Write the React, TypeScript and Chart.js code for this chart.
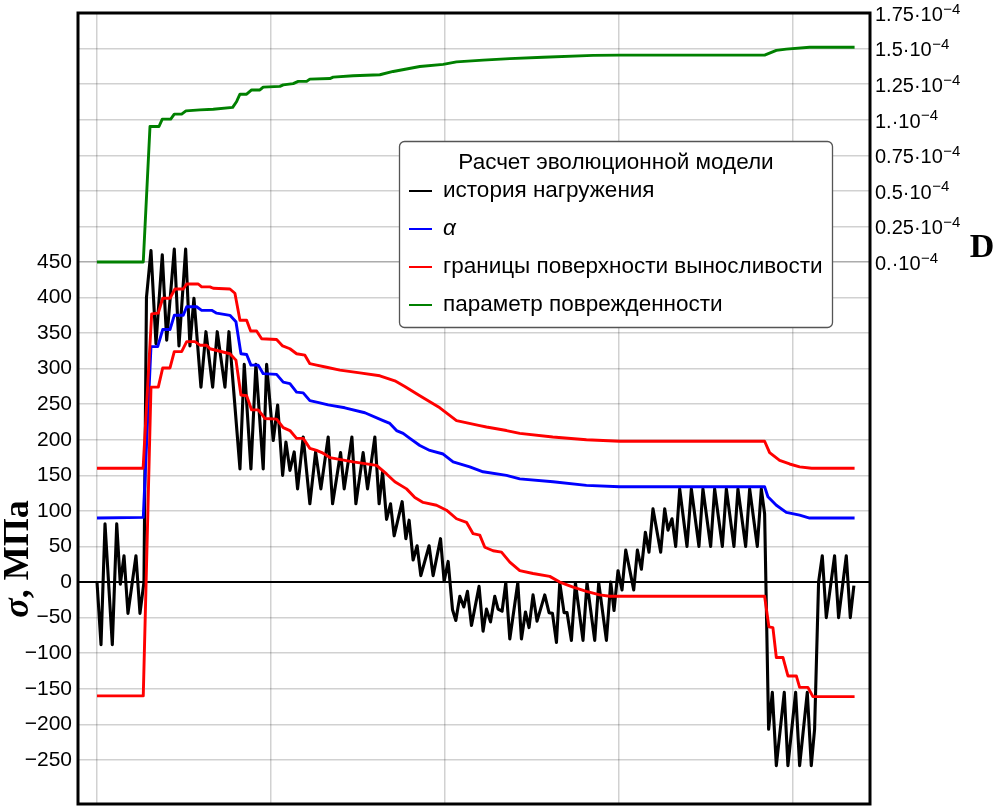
import React, { useEffect, useRef } from "react";
import { Chart, registerables } from "chart.js";

Chart.register(...registerables);

// time (arbitrary units, grid every 30) vs stress, MPa
const loadHistory: number[][] = [
  [0, 0], [0.69, -88], [1.38, 82], [2.64, -88], [3.4, 82], [4.02, -3], [4.66, 37], [5.34, -44], [6.72, 37], [7.41, -44],
  [8.1, 0], [8.53, 400], [9.31, 466], [10.17, 335], [11.26, 460], [12.02, 340], [13.33, 468], [14.14, 332], [15.29, 468], [16.03, 332],
  [16.72, 399], [17.93, 274], [18.79, 352], [19.95, 274], [20.74, 352], [22.07, 274], [22.76, 352], [24.66, 159], [25.4, 306], [26.55, 159],
  [27.41, 306], [28.67, 159], [29.26, 306], [30.4, 199], [31.16, 249], [32.02, 150], [32.59, 197], [33.28, 157], [34.02, 183], [34.6, 131],
  [35.57, 204], [36.72, 110], [37.71, 183], [38.62, 131], [39.88, 204], [40.64, 110], [42.02, 182], [42.64, 131], [43.97, 204], [44.66, 110],
  [45.91, 182], [46.67, 131], [47.93, 204], [48.67, 110], [49.26, 155], [49.95, 88], [50.64, 110], [51.26, 65], [52.64, 113], [53.28, 61],
  [53.84, 87], [54.53, 31], [55.22, 51], [55.86, 9], [57.29, 51], [57.98, 9], [59.26, 61], [59.88, 1], [60.57, 29], [61.33, -39],
  [61.9, -54], [62.59, -20], [63.28, -35], [63.91, -13], [64.6, -61], [65.91, -6], [66.6, -69], [67.19, -38], [67.88, -56], [68.62, -20],
  [69.19, -38], [69.88, -41], [70.52, -1], [71.21, -80], [72.59, -1], [73.22, -80], [73.91, -42], [74.53, -64], [75.22, -18], [75.91, -55],
  [77.24, -18], [77.98, -43], [78.57, -44], [79.26, -85], [79.83, -1], [80.57, -43], [81.09, -43], [81.84, -82], [82.53, -1], [83.84, -82],
  [84.53, -1], [85.86, -82], [86.55, -1], [87.88, -82], [88.62, 0], [89.19, -40], [89.88, 16], [90.57, -11], [91.21, 45], [92.59, -11],
  [93.22, 45], [93.91, 18], [94.6, 70], [95.22, 42], [95.91, 103], [97.24, 42], [97.93, 103], [98.5, 73], [99.19, 89], [99.83, 50],
  [100.52, 131], [101.78, 50], [102.53, 131], [103.84, 50], [104.53, 131], [105.86, 50], [106.55, 131], [107.88, 50], [108.57, 131], [109.88, 50],
  [110.57, 131], [111.9, 50], [112.59, 131], [113.91, 50], [114.6, 131], [115.17, 96], [115.86, -207], [116.5, -155], [117.19, -258], [118.56, -155],
  [119.19, -258], [120.52, -155], [121.21, -258], [122.53, -155], [123.22, -258], [123.79, -207], [124.48, 0], [125.12, 37], [125.81, -50], [127.24, 37],
  [127.93, -50], [129.26, 37], [129.95, -50], [130.57, -5],
];

const alphaCenter: number[][] = [
  [0, 90], [7.98, 91], [9.31, 331], [10.47, 331], [11.33, 355], [12.59, 355], [13.33, 375], [14.88, 375], [15.47, 387], [17.19, 387],
  [18.05, 382], [19.78, 382], [20.64, 378], [22.93, 375], [23.97, 366], [24.83, 321], [25.81, 320], [26.55, 305], [27.81, 305], [28.67, 293],
  [30.98, 292], [32.12, 281], [33.28, 279], [34.43, 267], [35.57, 266], [36.72, 255], [37.88, 253], [39.88, 249], [42.76, 245], [46.21, 238],
  [49.36, 227], [50.52, 223], [51.67, 213], [52.81, 209], [53.97, 202], [55.69, 192], [57.41, 185], [59.71, 180], [61.43, 169], [64.31, 162],
  [66.6, 155], [70.64, 150], [72.93, 145], [78.67, 141], [84.43, 136], [90.17, 134], [115.17, 134], [115.74, 120], [117.19, 108], [118.91, 98],
  [121.21, 94], [122.93, 90], [130.69, 90],
];

const upperBound: number[][] = [
  [0, 160], [7.95, 160], [9.43, 377], [10.57, 378], [11.33, 399], [12.59, 399], [13.45, 412], [14.88, 412], [15.47, 419], [17.47, 419],
  [18.05, 415], [19.48, 415], [20.05, 413], [22.93, 412], [23.79, 406], [24.66, 368], [25.81, 368], [26.5, 353], [27.53, 353], [28.4, 342],
  [30.98, 341], [32.02, 332], [33.28, 328], [34.43, 321], [35.86, 319], [36.72, 307], [37.88, 305], [39.6, 302], [41.9, 298], [45.34, 294],
  [48.79, 290], [51.38, 283], [53.1, 275], [55.69, 262], [59.14, 245], [62.02, 227], [66.03, 220], [67.19, 218], [70.64, 213], [72.93, 209],
  [78.62, 204], [84.43, 200], [90.17, 198], [115.17, 198], [116.03, 182], [117.76, 171], [119.48, 166], [121.21, 162], [123.28, 160], [130.69, 160],
];

const lowerBound: number[][] = [
  [0, -160], [7.98, -160], [9.31, 274], [10.57, 274], [11.33, 301], [12.59, 301], [13.33, 324], [14.6, 324], [15.47, 338], [16.9, 338],
  [17.76, 333], [18.91, 333], [19.48, 328], [22.93, 321], [23.97, 312], [24.83, 263], [25.81, 262], [26.67, 242], [27.81, 242], [28.97, 230],
  [30.98, 229], [32.12, 217], [33.28, 213], [34.43, 202], [35.57, 202], [36.72, 188], [37.88, 185], [38.79, 182], [40.17, 175], [44.19, 169],
  [48.22, 164], [49.95, 152], [51.38, 141], [53.4, 131], [54.83, 119], [56.26, 112], [58.57, 108], [60.29, 101], [62.02, 89], [63.74, 84],
  [64.88, 68], [66.03, 66], [66.9, 49], [68.33, 44], [69.78, 42], [71.21, 28], [72.93, 16], [75.22, 12], [78.1, 8], [79.83, 0],
  [82.12, -7], [84.43, -13], [86.72, -18], [88.45, -20], [115.17, -20], [115.91, -63], [116.6, -64], [117.19, -106], [118.33, -106], [119.19, -132],
  [120.64, -132], [121.21, -148], [122.64, -148], [123.5, -161], [130.69, -161],
];

// damage parameter D in units of 10^-4
const damageE4: number[][] = [
  [0, 0], [7.98, 0], [9.14, 0.953], [10.69, 0.953], [11.26, 1.005], [12.71, 1.005], [13.33, 1.04], [14.6, 1.04], [15.34, 1.063], [17.76, 1.07],
  [20.05, 1.074], [23.4, 1.087], [24.09, 1.129], [24.66, 1.18], [25.81, 1.18], [26.67, 1.21], [28.1, 1.21], [28.67, 1.23], [31.55, 1.235], [32.12, 1.246],
  [33.84, 1.254], [34.71, 1.27], [36.16, 1.27], [36.72, 1.286], [40.17, 1.29], [40.74, 1.3], [44.19, 1.31], [48.79, 1.317], [51.09, 1.34], [53.4, 1.357],
  [55.69, 1.375], [59.71, 1.39], [62.02, 1.407], [66.6, 1.42], [71.21, 1.43], [76.95, 1.44], [85.57, 1.453], [90.17, 1.455], [115.17, 1.455], [117.19, 1.488],
  [118.91, 1.497], [122.93, 1.51], [130.69, 1.51],
];

const sigmaTicks = [-250, -200, -150, -100, -50, 0, 50, 100, 150, 200, 250, 300, 350, 400, 450];
const damageTicks = [0, 0.25, 0.5, 0.75, 1, 1.25, 1.5, 1.75];
const damageTickLabels = ["0.", "0.25", "0.5", "0.75", "1.", "1.25", "1.5", "1.75"];
const timeGrid = [0, 30, 60, 90, 120];

const legendTitle = "Расчет эволюционной модели";
const legendLabels = ["история нагружения", "α", "границы поверхности выносливости", "параметр поврежденности"];
const legendColors = ["#000000", "#0000ff", "#ff0000", "#008000"];

const SANS = '"Liberation Sans", Arial, sans-serif';
const SERIF = '"Liberation Serif", "Times New Roman", serif';
const GRID = "rgba(0,0,0,0.18)";

const toPoints = (arr: number[][]) => arr.map(([x, y]) => ({ x, y }));

const decorPlugin = {
  id: "decor",
  afterDatasetsDraw(chart: any) {
    const { ctx, chartArea } = chart;
    const { left, top, right, bottom } = chartArea;
    ctx.save();
    ctx.strokeStyle = "#000";
    ctx.lineWidth = 3;
    ctx.strokeRect(left, top, right - left, bottom - top);
    ctx.restore();
  },
  afterDraw(chart: any) {
    const { ctx, chartArea, scales } = chart;
    ctx.save();
    // right-axis tick labels with superscript exponent
    const y2 = scales.y2;
    damageTicks.forEach((v, i) => {
      const py = y2.getPixelForValue(v);
      const main = damageTickLabels[i] + "·10";
      ctx.fillStyle = "#000";
      ctx.textAlign = "left";
      ctx.textBaseline = "alphabetic";
      ctx.font = `20px ${SANS}`;
      const x0 = chartArea.right + 5;
      ctx.fillText(main, x0, py + 7.7);
      const w = ctx.measureText(main).width;
      ctx.font = `15px ${SANS}`;
      ctx.fillText("−4", x0 + w + 0.5, py + 0.5);
    });

    // left axis title
    ctx.save();
    ctx.translate(28, 559);
    ctx.rotate(-Math.PI / 2);
    ctx.textBaseline = "alphabetic";
    ctx.textAlign = "left";
    const f1 = `italic bold 36px ${SERIF}`;
    const f2 = `bold 36px ${SERIF}`;
    ctx.font = f1;
    const w1 = ctx.measureText("σ").width;
    ctx.font = f2;
    const w2 = ctx.measureText(", МПа").width;
    const start = -(w1 + w2) / 2;
    ctx.fillStyle = "#000";
    ctx.font = f1;
    ctx.fillText("σ", start, 0);
    ctx.font = f2;
    ctx.fillText(", МПа", start + w1, 0);
    ctx.restore();

    // right axis title
    ctx.font = `bold 34px ${SERIF}`;
    ctx.textAlign = "center";
    ctx.textBaseline = "alphabetic";
    ctx.fillStyle = "#000";
    ctx.fillText("D", 982, 257);

    // legend box
    const bx = 399.5, by = 141.5, bw = 433, bh = 186;
    ctx.beginPath();
    if ((ctx as any).roundRect) (ctx as any).roundRect(bx, by, bw, bh, 5);
    else ctx.rect(bx, by, bw, bh);
    ctx.fillStyle = "#ffffff";
    ctx.fill();
    ctx.strokeStyle = "#555";
    ctx.lineWidth = 1.3;
    ctx.stroke();

    ctx.fillStyle = "#000";
    ctx.font = `22.5px ${SANS}`;
    ctx.textAlign = "center";
    ctx.fillText(legendTitle, bx + bw / 2, 169);

    ctx.textAlign = "left";
    legendLabels.forEach((lab, i) => {
      const base = 197 + i * 38;
      const ly = base - 6;
      ctx.strokeStyle = legendColors[i];
      ctx.lineWidth = 2;
      ctx.beginPath();
      ctx.moveTo(409, ly);
      ctx.lineTo(432, ly);
      ctx.stroke();
      ctx.fillStyle = "#000";
      ctx.font = lab === "α" ? `italic 22.5px ${SANS}` : `22.5px ${SANS}`;
      ctx.fillText(lab, 443, base);
    });
    ctx.restore();
  },
};

export default function App() {
  const canvasRef = useRef<HTMLCanvasElement | null>(null);

  useEffect(() => {
    if (!canvasRef.current) return;
    const common = {
      pointRadius: 0,
      borderWidth: 2.9,
      tension: 0,
      fill: false,
      borderJoinStyle: "round" as const,
    };
    const chart = new Chart(canvasRef.current, {
      type: "line",
      data: {
        datasets: [
          { ...common, label: legendLabels[0], data: toPoints(loadHistory), borderColor: "#000000", borderWidth: 3.1, yAxisID: "y", order: 4 },
          { ...common, label: legendLabels[1], data: toPoints(alphaCenter), borderColor: "#0000ff", yAxisID: "y", order: 3 },
          { ...common, label: legendLabels[2], data: toPoints(upperBound), borderColor: "#ff0000", yAxisID: "y", order: 2 },
          { ...common, label: legendLabels[2] + " (нижняя)", data: toPoints(lowerBound), borderColor: "#ff0000", yAxisID: "y", order: 2 },
          { ...common, label: legendLabels[3], data: toPoints(damageE4), borderColor: "#008000", yAxisID: "y2", order: 1 },
        ],
      },
      options: {
        animation: false,
        responsive: false,
        maintainAspectRatio: false,
        parsing: false as any,
        normalized: true,
        events: [],
        layout: { padding: { top: 13, bottom: 3, left: 0, right: 0 } },
        plugins: { legend: { display: false }, tooltip: { enabled: false }, title: { display: false } },
        scales: {
          x: {
            type: "linear",
            min: -3.28,
            max: 133.35,
            afterBuildTicks: (s: any) => { s.ticks = timeGrid.map((v) => ({ value: v })); },
            afterFit: (s: any) => { s.height = 0; s.paddingLeft = 0; s.paddingRight = 0; s.paddingTop = 0; s.paddingBottom = 0; },
            ticks: { display: false },
            grid: { color: GRID, lineWidth: 1.5, drawTicks: false },
            border: { display: false },
          },
          y: {
            type: "linear",
            position: "left",
            min: -312,
            max: 800,
            afterBuildTicks: (s: any) => { s.ticks = sigmaTicks.map((v) => ({ value: v })); },
            afterFit: (s: any) => { s.width = 78; s.paddingTop = 0; s.paddingBottom = 0; s.paddingLeft = 0; s.paddingRight = 0; },
            ticks: {
              autoSkip: false,
              color: "#000",
              padding: 6,
              font: { family: SANS, size: 21 },
              callback: (v: any) => (Number(v) < 0 ? "−" + Math.abs(Number(v)) : String(v)),
            },
            grid: {
              drawTicks: false,
              color: (c: any) => (c.tick && c.tick.value === 0 ? "#000000" : GRID),
              lineWidth: (c: any) => (c.tick && c.tick.value === 0 ? 2 : 1.5),
            },
            border: { display: false },
          },
          y2: {
            type: "linear",
            position: "right",
            min: -3.811,
            max: 1.751,
            afterBuildTicks: (s: any) => { s.ticks = damageTicks.map((v) => ({ value: v })); },
            afterFit: (s: any) => { s.width = 134; s.paddingTop = 0; s.paddingBottom = 0; },
            ticks: { display: false, autoSkip: false },
            grid: { drawTicks: false, color: GRID, lineWidth: 1.5 },
            border: { display: false },
          },
        },
      },
      plugins: [decorPlugin],
    } as any);
    return () => chart.destroy();
  }, []);

  return (
    <div style={{ position: "fixed", left: 0, top: 0, width: 1004, height: 807, background: "#fff" }}>
      <canvas ref={canvasRef} width={1004} height={807} style={{ display: "block", width: 1004, height: 807 }} />
    </div>
  );
}
